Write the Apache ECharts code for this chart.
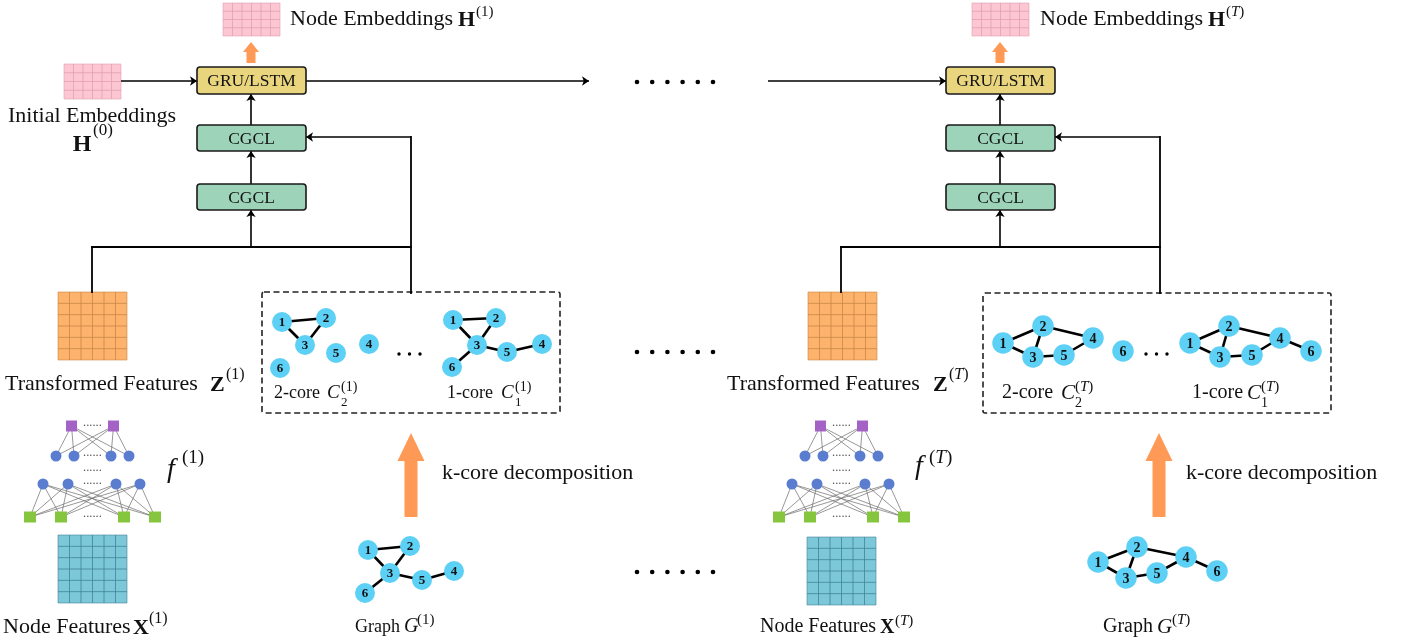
<!DOCTYPE html>
<html><head><meta charset="utf-8">
<script src="https://cdn.jsdelivr.net/npm/echarts@6/dist/echarts.min.js"></script>
<style>html,body{margin:0;padding:0;background:#fff}#c{width:1412px;height:644px}</style>
</head><body><div id="c"></div>
<script>
// ================= DATA =================
// feature matrices: [x0, y0, x1, y1]
const matrixRects = [[223,3,280,36],[64,64,121,99],[58,292,127,360],[58,535,127,603],[972,3,1029,36],[808,292,877,360],[807,537,876,605]];
const matrixGrid = [[4,6],[4,6],[6,6],[6,6],[4,6],[6,6],[6,6]];
const matrixKind = ['pink','pink','orange','blue','pink','orange','blue'];

// module boxes
const boxRects = [[197,67,306,94],[197,125,306,151],[197,184,306,210],[946,67,1055,94],[946,125,1055,151],[946,184,1055,210]];
const boxLabels = ['GRU/LSTM','CGCL','CGCL','GRU/LSTM','CGCL','CGCL'];
const boxKind = ['gru','cgcl','cgcl','gru','cgcl','cgcl'];

// dashed k-core containers
const dashedRects = [[262,292,560,413],[983,293,1331,413]];

// connectors with arrow head at the end
const arrowSegments = [
  [[121,81],[197,81]], [[306,81],[589,81]], [[251,125],[251,94]], [[251,184],[251,151]], [[251,247],[251,210]], [[411,137],[306,137]],
  [[768,81],[946,81]], [[1000,125],[1000,94]], [[1000,184],[1000,151]], [[1000,247],[1000,210]], [[1160,137],[1055,137]]
];
// plain connectors
const plainSegments = [
  [[92,292],[92,247]], [[92,247],[411,247]], [[411,293],[411,137]],
  [[841,292],[841,247]], [[841,247],[1160,247]], [[1160,293],[1160,137]]
];

// fat orange arrows: [cx, tipY, headBaseY, bottomY, headHalfW, shaftHalfW]
const fatArrows = [[251,42,52,63,8,4.5],[1000,42,52,63,8,4.5],[411,433,461,517,13.5,6.5],[1159,433,461,517,13.5,6.5]];

// ellipsis dots: [x, y, count, spacing]
const dotRows = [[637,82,6,15.2],[637,352,6,15.2],[637,572,6,15.2],[399,354,3,10.5],[1146,354,3,10.5]];

// MLP f(1) and f(T)
const mlpOut1 = [[71.5,426],[113.5,426]];
const mlpHidA1 = [[56,456],[74,456],[111,456],[129,456]];
const mlpHidB1 = [[43,484],[68,484],[116,484],[140,484]];
const mlpIn1 = [[30,517],[61,517],[124,517],[155,517]];
const mlpOutT = [[820.5,426],[862.5,426]];
const mlpHidAT = [[805,456],[823,456],[860,456],[878,456]];
const mlpHidBT = [[792,484],[817,484],[865,484],[889,484]];
const mlpInT = [[779,517],[810,517],[873,517],[904,517]];
const mlpDots = [[83,426],[83,456],[83,471],[83,484],[83,517],[832,426],[832,456],[832,471],[832,484],[832,517]];

// graphs: nodes [x, y, id]
const core2Nodes1 = [[282,322,'1'],[326,318,'2'],[305,345,'3'],[369,344,'4'],[336,353,'5'],[280,368,'6']];
const core2Edges1 = [[1,2],[1,3],[2,3]];
const core1Nodes1 = [[453,320,'1'],[496,318,'2'],[477,345,'3'],[542,344,'4'],[507,352,'5'],[452,367,'6']];
const core1Edges1 = [[1,2],[1,3],[2,3],[3,6],[3,5],[5,4]];
const graphNodes1 = [[368,550,'1'],[410,546,'2'],[390,573,'3'],[454,571,'4'],[422,580,'5'],[365,593,'6']];
const graphEdges1 = [[1,2],[1,3],[2,3],[3,6],[3,5],[5,4]];
const core2NodesT = [[1003,343,'1'],[1043,326,'2'],[1033,357,'3'],[1093,338,'4'],[1064,355,'5'],[1123,351,'6']];
const core2EdgesT = [[1,2],[1,3],[2,3],[3,5],[5,4],[2,4]];
const core1NodesT = [[1190,343,'1'],[1229,326,'2'],[1220,357,'3'],[1280,338,'4'],[1252,355,'5'],[1311,351,'6']];
const core1EdgesT = [[1,2],[1,3],[2,3],[3,5],[5,4],[2,4],[4,6]];
const graphNodesT = [[1098,562,'1'],[1137,547,'2'],[1126,578,'3'],[1186,557,'4'],[1157,573,'5'],[1217,571,'6']];
const graphEdgesT = [[1,2],[1,3],[2,3],[3,5],[5,4],[2,4],[4,6]];

// text annotations: [x, y, text, size, variant, align]
const texts = [
  [290,19,'Node Embeddings',22,'n'], [458,20,'H',22,'b'], [476,12,'(1)',15,'n'],
  [92,116,'Initial Embeddings',22,'n','center'], [82,145,'H',24,'b','center'], [93,131,'(0)',17,'n'],
  [5,384,'Transformed Features',22,'n'], [210,385,'Z',22,'b'], [226,375,'(1)',16,'n'],
  [274,393,'2-core',18,'n'], [327,393,'C',19,'i'], [341,387,'(1)',14,'n'], [341,403,'2',13,'n'],
  [447,393,'1-core',18,'n'], [501,393,'C',19,'i'], [515,387,'(1)',14,'n'], [515,403,'1',13,'n'],
  [167,470,'f',28,'i'], [182,458,'(1)',19,'n'],
  [442,473,'k-core decomposition',22,'n'],
  [3,627,'Node Features',22,'n'], [133,628,'X',22,'b'], [149,619,'(1)',16,'n'],
  [355,627,'Graph',18,'n'], [404,627,'G',20,'i'], [417,620,'(1)',15,'n'],
  [1040,19,'Node Embeddings',22,'n'], [1208,20,'H',22,'b'], [1226,12,'({i|T})',15,'n'],
  [727,384,'Transformed Features',22,'n'], [933,385,'Z',22,'b'], [949,375,'({i|T})',16,'n'],
  [1002,393,'2-core',20,'n'], [1061,393,'C',21,'i'], [1075,387,'({i|T})',15,'n'], [1075,403,'2',14,'n'],
  [1192,393,'1-core',20,'n'], [1247,393,'C',21,'i'], [1261,387,'({i|T})',15,'n'], [1261,403,'1',14,'n'],
  [915,467,'f',28,'i'], [929,458,'({i|T})',19,'n'],
  [1186,473,'k-core decomposition',22,'n'],
  [760,627,'Node Features',20,'n'], [880,628,'X',20,'b'], [895,621,'({i|T})',15,'n'],
  [1103,627,'Graph',20,'n'], [1157,627,'G',21,'i'], [1172,620,'({i|T})',15,'n']
];

// ================= STYLE =================
const FONT = 'Liberation Serif';
const palettes = {
  pink: {fill:'#fcc6d2', line:'#e3a0b2'},
  orange: {fill:'#fdb36b', line:'#c88647'},
  blue: {fill:'#7cc7d8', line:'#3f8497'}
};
const boxFill = {gru:'#ead57f', cgcl:'#9dd3b9'};
const NODE_COLOR = '#5dd0f5';

// ================= BUILD =================
function full(list){ return list.map(a => ({coords:a})); }
function edgesOf(nodes, edges){ return edges.map(e => ({coords:[[nodes[e[0]-1][0],nodes[e[0]-1][1]],[nodes[e[1]-1][0],nodes[e[1]-1][1]]]})); }
function bipartite(a, b){ const out=[]; a.forEach(p => b.forEach(q => out.push({coords:[p,q]}))); return out; }

const graphSets = [
  [core2Nodes1, core2Edges1, 20, 13], [core1Nodes1, core1Edges1, 20, 13], [graphNodes1, graphEdges1, 20, 13],
  [core2NodesT, core2EdgesT, 21.5, 14], [core1NodesT, core1EdgesT, 21.5, 14], [graphNodesT, graphEdgesT, 21.5, 14]
];

const series = [];

// matrices
series.push({
  type:'custom', coordinateSystem:'cartesian2d', z:2,
  data: matrixRects,
  encode:{x:[0,2], y:[1,3]},
  renderItem:(params, api) => {
    const i = params.dataIndex;
    const p0 = api.coord([api.value(0), api.value(1)]);
    const p1 = api.coord([api.value(2), api.value(3)]);
    const [rows, cols] = matrixGrid[i];
    const pal = palettes[matrixKind[i]];
    const w = p1[0]-p0[0], h = p1[1]-p0[1];
    const ch = [{type:'rect', shape:{x:p0[0], y:p0[1], width:w, height:h}, style:{fill:pal.fill, stroke:pal.line, lineWidth:0.6}}];
    for (let c=1;c<cols;c++){ const x = p0[0]+w*c/cols; ch.push({type:'line', shape:{x1:x,y1:p0[1],x2:x,y2:p1[1]}, style:{stroke:pal.line, lineWidth:0.8}}); }
    for (let r=1;r<rows;r++){ const y = p0[1]+h*r/rows; ch.push({type:'line', shape:{x1:p0[0],y1:y,x2:p1[0],y2:y}, style:{stroke:pal.line, lineWidth:0.8}}); }
    return {type:'group', children:ch};
  }
});

// boxes
series.push({
  type:'custom', coordinateSystem:'cartesian2d', z:5,
  data: boxRects, encode:{x:[0,2], y:[1,3]},
  renderItem:(params, api) => {
    const i = params.dataIndex;
    const p0 = api.coord([api.value(0), api.value(1)]);
    const p1 = api.coord([api.value(2), api.value(3)]);
    return {type:'group', children:[
      {type:'rect', shape:{x:p0[0], y:p0[1], width:p1[0]-p0[0], height:p1[1]-p0[1], r:3}, style:{fill:boxFill[boxKind[i]], stroke:'#1a1a1a', lineWidth:1.6}},
      {type:'text', x:(p0[0]+p1[0])/2, y:(p0[1]+p1[1])/2+1, style:{text:boxLabels[i], fontFamily:FONT, fontSize:17.5, fill:'#111', align:'center', verticalAlign:'middle'}}
    ]};
  }
});

// dashed containers
series.push({
  type:'custom', coordinateSystem:'cartesian2d', z:3,
  data: dashedRects, encode:{x:[0,2], y:[1,3]},
  renderItem:(params, api) => {
    const p0 = api.coord([api.value(0), api.value(1)]);
    const p1 = api.coord([api.value(2), api.value(3)]);
    return {type:'rect', shape:{x:p0[0], y:p0[1], width:p1[0]-p0[0], height:p1[1]-p0[1], r:2}, style:{fill:'none', stroke:'#222', lineWidth:1.6, lineDash:[6,3.5]}};
  }
});

// fat orange arrows
series.push({
  type:'custom', coordinateSystem:'cartesian2d', z:4,
  data: fatArrows, encode:{x:0, y:[1,3]},
  renderItem:(params, api) => {
    const cx = api.value(0), tip = api.value(1), base = api.value(2), bot = api.value(3), hw = api.value(4), sw = api.value(5);
    const pts = [[cx,tip],[cx+hw,base],[cx+sw,base],[cx+sw,bot],[cx-sw,bot],[cx-sw,base],[cx-hw,base]].map(p => api.coord(p));
    return {type:'polygon', shape:{points:pts}, style:{fill:'#fe9a55'}};
  }
});

// connectors
series.push({
  type:'lines', coordinateSystem:'cartesian2d', z:4, silent:true,
  data: full(plainSegments),
  lineStyle:{color:'#000', width:1.8, opacity:1, cap:'square'}
});
series.push({
  type:'lines', coordinateSystem:'cartesian2d', z:4, silent:true,
  data: full(arrowSegments),
  symbol:['none','arrow'], symbolSize:[0,7],
  lineStyle:{color:'#000', width:1.6, opacity:1}
});

// MLP edges
series.push({
  type:'lines', coordinateSystem:'cartesian2d', z:3, silent:true,
  data: [].concat(bipartite(mlpOut1, mlpHidA1), bipartite(mlpHidB1, mlpIn1), bipartite(mlpOutT, mlpHidAT), bipartite(mlpHidBT, mlpInT)),
  lineStyle:{color:'#6b6b6b', width:0.7, opacity:1}
});
// MLP nodes
series.push({type:'scatter', z:6, silent:true, symbol:'rect', symbolSize:11, itemStyle:{color:'#a562c6', opacity:1}, data: mlpOut1.concat(mlpOutT)});
series.push({type:'scatter', z:6, silent:true, symbol:'circle', symbolSize:11, itemStyle:{color:'#5b7dcf', opacity:1}, data: mlpHidA1.concat(mlpHidB1, mlpHidAT, mlpHidBT)});
series.push({type:'scatter', z:6, silent:true, symbol:'rect', symbolSize:[12,11], itemStyle:{color:'#86c63f', opacity:1}, data: mlpIn1.concat(mlpInT)});

// graphs
graphSets.forEach(gs => {
  const [nodes, edges, size, fsz] = gs;
  series.push({
    type:'lines', coordinateSystem:'cartesian2d', z:7, silent:true,
    data: edgesOf(nodes, edges), lineStyle:{color:'#000', width:2.6, opacity:1}
  });
  series.push({
    type:'scatter', z:8, silent:true, symbolSize:size,
    itemStyle:{color:NODE_COLOR, opacity:1},
    data: nodes.map(n => ({value:[n[0], n[1]], name:n[2]})),
    label:{show:true, position:'inside', formatter:'{b}', fontFamily:FONT, fontWeight:'bold', fontSize:fsz, color:'#111', offset:[0,1]}
  });
});

// ellipsis dots
series.push({
  type:'custom', coordinateSystem:'cartesian2d', z:5,
  data: dotRows, encode:{x:0, y:1},
  renderItem:(params, api) => {
    const x = api.value(0), y = api.value(1), n = api.value(2), s = api.value(3);
    const r = n > 3 ? 2.3 : 1.7;
    const ch = [];
    for (let k=0;k<n;k++){ const p = api.coord([x+k*s, y]); ch.push({type:'circle', shape:{cx:p[0], cy:p[1], r:r}, style:{fill:'#000'}}); }
    return {type:'group', children:ch};
  }
});

// MLP dotted gaps
series.push({
  type:'custom', coordinateSystem:'cartesian2d', z:5,
  data: mlpDots, encode:{x:0, y:1},
  renderItem:(params, api) => {
    const p = api.coord([api.value(0), api.value(1)]);
    return {type:'text', x:p[0], y:p[1]-3, style:{text:'......', fontFamily:FONT, fontSize:12.5, fill:'#555', align:'left', verticalAlign:'middle'}};
  }
});

// texts
series.push({
  type:'custom', coordinateSystem:'cartesian2d', z:10,
  data: texts.map(t => [t[0], t[1]]), encode:{x:0, y:1},
  renderItem:(params, api) => {
    const t = texts[params.dataIndex];
    const p = api.coord([api.value(0), api.value(1)]);
    const size = t[3], v = t[4];
    return {type:'text', x:p[0], y:p[1], style:{
      text:t[2], fontFamily:FONT, fontSize:size,
      fontWeight: v==='b' ? 'bold' : 'normal', fontStyle: v==='i' ? 'italic' : 'normal',
      fill:'#111', align:t[5] || 'left', verticalAlign:'middle',
      rich:{i:{fontFamily:FONT, fontSize:size, fontStyle:'italic', fill:'#111'}}
    }};
  }
});

const chart = echarts.init(document.getElementById('c'));
chart.setOption({
  animation:false,
  backgroundColor:'#fff',
  grid:{left:0, right:0, top:0, bottom:0},
  xAxis:{type:'value', min:0, max:1412, show:false},
  yAxis:{type:'value', min:0, max:644, inverse:true, show:false},
  series: series
});
</script>
</body></html>
